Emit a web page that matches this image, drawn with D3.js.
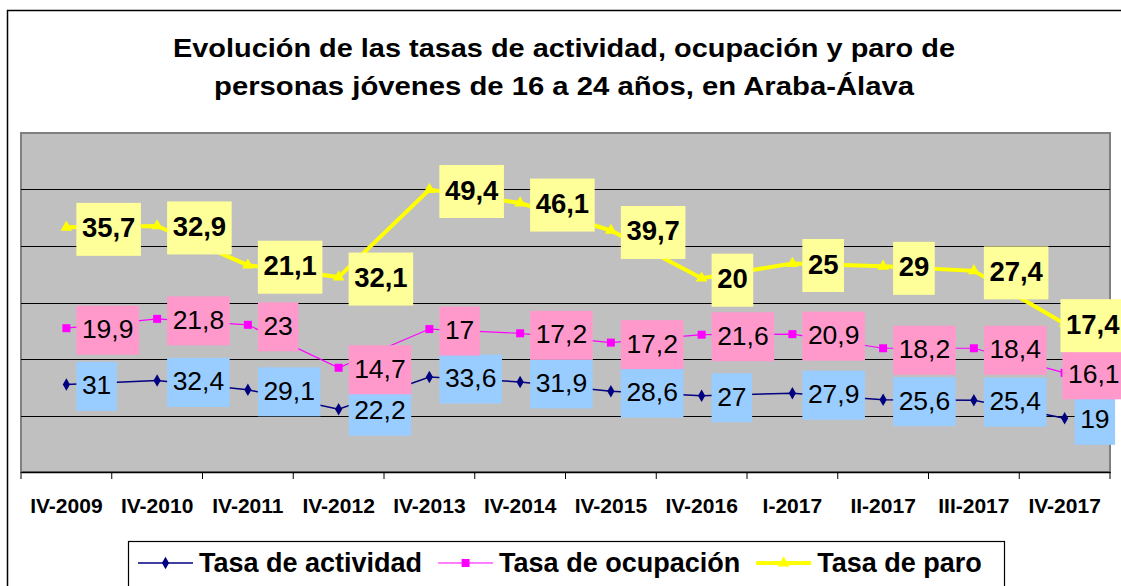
<!DOCTYPE html>
<html>
<head>
<meta charset="utf-8">
<script src="https://cdn.jsdelivr.net/npm/d3@7"></script>
<style>
  body { margin: 0; background: #fff; }
  svg { display: block; font-family: "Liberation Sans", Arial, sans-serif; }
</style>
</head>
<body>
<div id="wrapper"></div>
<script>
//Data
const categories = ["IV-2009", "IV-2010", "IV-2011", "IV-2012", "IV-2013", "IV-2014",
                    "IV-2015", "IV-2016", "I-2017", "II-2017", "III-2017", "IV-2017"]
const tasaActividad = [31, 32.4, 29.1, 22.2, 33.6, 31.9, 28.6, 27, 27.9, 25.6, 25.4, 19]
const tasaOcupacion = [19.9, 21.8, 23, 14.7, 17, 17.2, 17.2, 21.6, 20.9, 18.2, 18.4, 16.1]
const tasaParo = [35.7, 32.9, 21.1, 32.1, 49.4, 46.1, 39.7, 20, 25, 29, 27.4, 17.4]
const seriesNames = ["Tasa de actividad", "Tasa de ocupación", "Tasa de paro"]
const yTicks = [0, 20, 40, 60, 80, 100, 120]

function drawChart(){
    //1) Build table for the stack
    const keys = ["act", "ocu", "par"]
    const table = categories.map((c, i) => ({
        cat: c, act: tasaActividad[i], ocu: tasaOcupacion[i], par: tasaParo[i]
    }))
    const stacked = d3.stack().keys(keys)(table)

    const styles = [
        {color: "#000080", width: 1.5, box: "#99CCFF", bold: false, symbol: d3.symbolDiamond, size: 45},
        {color: "#FF00FF", width: 1.2, box: "#FF99CC", bold: false, symbol: d3.symbolSquare, size: 64},
        {color: "#FFFF00", width: 4, box: "#FFFF99", bold: true, symbol: d3.symbolTriangle, size: 60},
    ]

    //2) Dimensions
    let dimensions = {
        width: 1121,
        height: 586,
        margin: { top: 133, right: 11, bottom: 114, left: 21 },
    }
    dimensions.boundedWidth = dimensions.width - dimensions.margin.left - dimensions.margin.right
    dimensions.boundedHeight = dimensions.height - dimensions.margin.top - dimensions.margin.bottom

    //3) Canvas
    const wrapper = d3.select("#wrapper").append("svg")
        .attr("width", dimensions.width)
        .attr("height", dimensions.height)

    // outer chart border
    wrapper.append("rect")
        .attr("x", 7.5).attr("y", 10.5)
        .attr("width", 1140).attr("height", 600)
        .attr("fill", "#fff").attr("stroke", "#000").attr("stroke-width", 1.5)

    // title (the original is a bit wider than the font, so stretch it)
    const title = wrapper.append("text")
        .attr("text-anchor", "middle")
        .style("font-weight", "bold").style("font-size", "25.5px")
    title.append("tspan").attr("x", 564).attr("y", 57)
        .attr("textLength", 782).attr("lengthAdjust", "spacingAndGlyphs")
        .text("Evolución de las tasas de actividad, ocupación y paro de")
    title.append("tspan").attr("x", 564).attr("y", 95)
        .attr("textLength", 700).attr("lengthAdjust", "spacingAndGlyphs")
        .text("personas jóvenes de 16 a 24 años, en Araba-Álava")

    const bounds = wrapper.append("g")
        .attr("transform", `translate(${dimensions.margin.left},${dimensions.margin.top})`)

    //4) Scales
    const xScale = d3.scaleBand()
        .domain(categories)
        .range([0, dimensions.boundedWidth])
    const yScale = d3.scaleLinear()
        .domain([0, 120])
        .range([dimensions.boundedHeight, 0])
    const xPos = d => xScale(d) + xScale.bandwidth() / 2

    // plot background + gridlines
    bounds.append("rect")
        .attr("width", dimensions.boundedWidth)
        .attr("height", dimensions.boundedHeight)
        .attr("fill", "#C0C0C0")
        .attr("stroke", "#808080").attr("stroke-width", 2)

    bounds.append("g")
        .selectAll("line")
        .data(yTicks.slice(1, -1))
        .join("line")
        .attr("x1", 0).attr("x2", dimensions.boundedWidth)
        .attr("y1", d => Math.round(yScale(d)) + 0.5)
        .attr("y2", d => Math.round(yScale(d)) + 0.5)
        .attr("stroke", "#000").attr("stroke-width", 1)

    //5) X axis
    const xAxisGenerator = d3.axisBottom(xScale).tickSize(0).tickPadding(0)
    const xAxis = bounds.append("g")
        .attr("transform", `translate(0,${dimensions.boundedHeight})`)
        .call(xAxisGenerator)
    xAxis.select(".domain").attr("stroke", "#000").attr("stroke-width", 1.5)
    xAxis.selectAll("text")
        .attr("fill", "#000")
        .attr("y", 41).attr("dy", 0)
        .style("font-size", "21px").style("font-weight", "bold")
        .style("font-family", "Liberation Sans, Arial, sans-serif")
    // tick marks on band boundaries
    xAxis.append("g")
        .selectAll("line")
        .data(categories.concat(["end"]))
        .join("line")
        .attr("x1", (d, i) => i < categories.length ? xScale(d) : dimensions.boundedWidth)
        .attr("x2", (d, i) => i < categories.length ? xScale(d) : dimensions.boundedWidth)
        .attr("y1", 0).attr("y2", 7)
        .attr("stroke", "#000")

    //6) Lines and markers
    const lineGenerator = d3.line()
        .x((d, i) => xPos(categories[i]))
        .y(d => yScale(d[1]))

    stacked.forEach((serie, si) => {
        const st = styles[si]
        bounds.append("path")
            .datum(serie)
            .attr("d", lineGenerator)
            .attr("fill", "none")
            .attr("stroke", st.color)
            .attr("stroke-width", st.width)
        bounds.append("g")
            .selectAll("path")
            .data(serie)
            .join("path")
            .attr("transform", (d, i) => `translate(${xPos(categories[i])},${yScale(d[1])})`)
            .attr("d", d3.symbol().type(st.symbol).size(st.size))
            .attr("fill", st.color)
    })

    //7) Data labels
    const labelLayer = wrapper.append("g")
    const rawValues = [tasaActividad, tasaOcupacion, tasaParo]
    const fmt = v => String(v).replace(".", ",")
    stacked.forEach((serie, si) => {
        const st = styles[si]
        serie.forEach((d, i) => {
            const px = dimensions.margin.left + xPos(categories[i])
            const py = dimensions.margin.top + yScale(d[1])
            const g = labelLayer.append("g")
            const rect = g.append("rect").attr("fill", st.box)
            const t = g.append("text")
                .style("font-size", st.bold ? "27.5px" : "26.5px")
                .style("font-weight", st.bold ? "bold" : "normal")
                .attr("fill", "#000")
                .text(fmt(rawValues[si][i]))
            const tw = t.node().getComputedTextLength()
            const padX = 5.5
            const bw = tw + padX * 2
            const bh = st.bold ? 53 : 49
            let bx = px + 10
            if (bx + bw > dimensions.width + 4) bx = dimensions.width + 4 - bw
            rect.attr("x", bx).attr("y", py + 2 - bh / 2)
                .attr("width", bw).attr("height", bh)
            t.attr("x", bx + padX).attr("y", py + 10)
        })
    })

    //8) Legend
    const legend = wrapper.append("g")
    legend.append("rect")
        .attr("x", 128.5).attr("y", 541.5)
        .attr("width", 876).attr("height", 50)
        .attr("fill", "#fff").attr("stroke", "#000").attr("stroke-width", 1.2)
    let lx = 138
    seriesNames.forEach((name, si) => {
        const st = styles[si]
        legend.append("line")
            .attr("x1", lx).attr("x2", lx + 55)
            .attr("y1", 563).attr("y2", 563)
            .attr("stroke", st.color).attr("stroke-width", st.width)
        legend.append("path")
            .attr("transform", `translate(${lx + 27.5},563)`)
            .attr("d", d3.symbol().type(st.symbol).size(st.size))
            .attr("fill", st.color)
        const t = legend.append("text")
            .attr("x", lx + 61).attr("y", 572)
            .style("font-size", "27px").style("font-weight", "bold")
            .text(name)
        lx = lx + 61 + t.node().getComputedTextLength() + 16
    })
}

drawChart()
</script>
</body>
</html>
